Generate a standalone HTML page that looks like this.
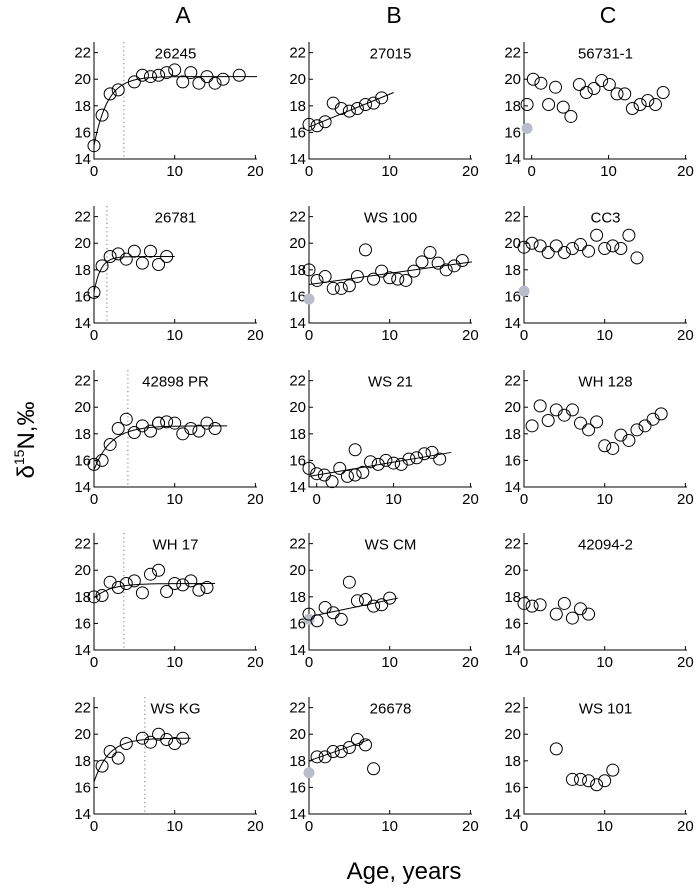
<!DOCTYPE html>
<html><head><meta charset="utf-8"><style>
html,body{margin:0;padding:0;background:#fff;}
svg{display:block;font-family:"Liberation Sans",Arial,sans-serif;}
</style></head><body>
<svg id="fig" width="699" height="888" viewBox="0 0 699 888">
<text x="183" y="23" font-size="23" text-anchor="middle">A</text>
<text x="394" y="23" font-size="23" text-anchor="middle">B</text>
<text x="608" y="23" font-size="23" text-anchor="middle">C</text>
<text transform="translate(34,440) rotate(-90)" font-size="24" text-anchor="middle">δ<tspan font-size="14" dy="-10">15</tspan><tspan dy="10">N,‰</tspan></text>
<text x="404" y="879" font-size="24" text-anchor="middle">Age, years</text>
</svg>
<script>
// ---- data arrays ----
const p26245x=[0,1,2,3,5,6,7,8,9,10,11,12,13,14,15,16,18];
const p26245y=[15.0,17.3,18.9,19.2,19.8,20.3,20.2,20.3,20.5,20.7,19.8,20.5,19.7,20.2,19.7,20.0,20.3];
const p27015x=[0,1,2,3,4,5,6,7,8,9];
const p27015y=[16.6,16.5,16.8,18.2,17.8,17.6,17.8,18.1,18.2,18.6];
const p56731x=[-0.6,0.2,1.2,2.2,3.1,4.1,5.1,6.2,7.1,8.1,9.1,10.1,11.1,12.1,13.1,14.1,15.1,16.1,17.1];
const p56731y=[18.1,20.0,19.7,18.1,19.4,17.9,17.2,19.6,19.0,19.3,19.9,19.6,18.9,18.9,17.8,18.1,18.4,18.1,19.0];
const p26781x=[0,1,2,3,4,5,6,7,8,9];
const p26781y=[16.3,18.3,19.0,19.2,18.8,19.4,18.5,19.4,18.4,19.0];
const pWS100x=[0,1,2,3,4,5,6,7,8,9,10,11,12,13,14,15,16,17,18,19];
const pWS100y=[18.0,17.2,17.5,16.6,16.6,16.8,17.5,19.5,17.3,17.9,17.4,17.3,17.2,17.9,18.6,19.3,18.5,18.0,18.3,18.7];
const pCC3x=[0,1,2,3,4,5,6,7,8,9,10,11,12,13,14];
const pCC3y=[19.7,20.0,19.8,19.3,19.8,19.3,19.6,19.9,19.4,20.6,19.6,19.8,19.6,20.6,18.9];
const p42898x=[0,1,2,3,4,5,6,7,8,8,9,10,11,12,13,14,15];
const p42898y=[15.7,16.0,17.2,18.4,19.1,18.1,18.6,18.2,18.8,18.8,18.9,18.8,18.0,18.4,18.2,18.8,18.4];
const pWS21x=[-1,0,1,2,3,4,5,5,6,7,8,9,10,11,12,13,14,15,16];
const pWS21y=[15.4,15.0,14.9,14.4,15.4,14.8,14.9,16.8,15.1,15.9,15.7,16.0,15.8,15.7,16.1,16.2,16.5,16.6,16.1];
const pWH128x=[1,2,3,4,5,6,7,8,9,10,11,12,13,14,15,16,17];
const pWH128y=[18.6,20.1,19.0,19.8,19.4,19.8,18.8,18.3,18.9,17.1,16.9,17.9,17.5,18.3,18.6,19.1,19.5];
const pWH17x=[0,1,2,3,4,5,6,7,8,9,10,11,12,13,14];
const pWH17y=[18.0,18.1,19.1,18.7,19.0,19.2,18.3,19.7,20.0,18.4,19.0,18.9,19.2,18.5,18.7];
const pWSCMx=[0,1,2,3,4,5,6,7,8,9,10];
const pWSCMy=[16.7,16.2,17.2,16.8,16.3,19.1,17.7,17.8,17.3,17.4,17.9];
const p42094x=[0,1,2,4,5,6,7,8];
const p42094y=[17.5,17.3,17.4,16.7,17.5,16.4,17.1,16.7];
const pWSKGx=[1,2,3,4,6,7,8,9,10,11];
const pWSKGy=[17.6,18.7,18.2,19.3,19.7,19.4,20.0,19.6,19.3,19.7];
const p26678x=[1,2,3,4,5,6,7,8];
const p26678y=[18.3,18.3,18.7,18.7,19.0,19.6,19.2,17.4];
const pWS101x=[4,6,7,8,9,10,11];
const pWS101y=[18.9,16.6,16.6,16.5,16.2,16.5,17.3];
// baseline (grey) values: [x, y]
const greyWS100=[0,15.8];
const greyCC3=[0,16.4];
const grey56731=[-0.6,16.3];
const greyWSCM=[0,16.3];
const grey26678=[0,17.1];
// exponential fits [start, asymptote, rate, xEnd], linear fits [x0,y0,x1,y1]
const fit26245=[15.0,20.2,0.6,20.2];
const fit26781=[16.3,19.0,1.2,10];
const fit42898=[15.3,18.6,0.47,16.5];
const fitWH17=[17.9,19.0,0.5,15];
const fitWSKG=[16.4,19.7,0.55,12];
const lin27015=[0,16.4,10.5,19.0];
const linWS100=[0,16.9,20.2,18.6];
const linWS21=[-1,14.8,17.5,16.6];
const linWSCM=[0,16.5,11,17.9];
const lin26678=[0,18.0,7.5,19.6];
// dotted vertical markers
const vline26245=3.7, vline26781=1.6, vline42898=4.2, vlineWH17=3.7, vlineWSKG=6.3;
const yTicks=[14,16,18,20,22];
const xTicks=[0,10,20];

const panels=[
 {name:'26245',col:0,row:0,xmin:0,x:p26245x,y:p26245y,exp:fit26245,v:vline26245},
 {name:'27015',col:1,row:0,xmin:0,x:p27015x,y:p27015y,lin:lin27015},
 {name:'56731-1',col:2,row:0,xmin:-1,x:p56731x,y:p56731y,grey:grey56731},
 {name:'26781',col:0,row:1,xmin:0,x:p26781x,y:p26781y,exp:fit26781,v:vline26781},
 {name:'WS 100',col:1,row:1,xmin:0,x:pWS100x,y:pWS100y,lin:linWS100,grey:greyWS100},
 {name:'CC3',col:2,row:1,xmin:0,x:pCC3x,y:pCC3y,grey:greyCC3},
 {name:'42898 PR',col:0,row:2,xmin:0,x:p42898x,y:p42898y,exp:fit42898,v:vline42898},
 {name:'WS 21',col:1,row:2,xmin:-1,x:pWS21x,y:pWS21y,lin:linWS21},
 {name:'WH 128',col:2,row:2,xmin:0,x:pWH128x,y:pWH128y},
 {name:'WH 17',col:0,row:3,xmin:0,x:pWH17x,y:pWH17y,exp:fitWH17,v:vlineWH17},
 {name:'WS CM',col:1,row:3,xmin:0,x:pWSCMx,y:pWSCMy,lin:linWSCM,grey:greyWSCM},
 {name:'42094-2',col:2,row:3,xmin:0,x:p42094x,y:p42094y},
 {name:'WS KG',col:0,row:4,xmin:0,x:pWSKGx,y:pWSKGy,exp:fitWSKG,v:vlineWSKG},
 {name:'26678',col:1,row:4,xmin:0,x:p26678x,y:p26678y,lin:lin26678,grey:grey26678},
 {name:'WS 101',col:2,row:4,xmin:0,x:pWS101x,y:pWS101y}
];
const NS='http://www.w3.org/2000/svg';
const svg=document.getElementById('fig');
const lefts=[94,309,524], W=163, bottoms=[159,323,487,650,814], H=117, YMIN=14, YMAX=22.8, XMAX=20.2;
function mk(tag,attrs,parent){const e=document.createElementNS(NS,tag);for(const k in attrs)e.setAttribute(k,attrs[k]);parent.appendChild(e);return e;}
panels.forEach(p=>{
  const L=lefts[p.col], B=bottoms[p.row];
  const sx=v=>L+(v-p.xmin)/(XMAX-p.xmin)*W;
  const sy=v=>B-(v-YMIN)/(YMAX-YMIN)*H;
  const slug=p.name.toLowerCase().replace(/\s+/g,'-');
  const g=mk('g',{},svg);
  
  
  const ax=mk('path',{d:`M${L},${B-H}V${B}H${L+W}`,fill:'none',stroke:'#000','stroke-width':1},g);
  
  
  yTicks.forEach(t=>{
    const y=sy(t);
    mk('line',{x1:L,x2:L+4,y1:y,y2:y,stroke:'#000','stroke-width':1},g);
    const tx=mk('text',{x:L-3,y:y+5,'font-size':15,'text-anchor':'end'},g);
    tx.textContent=t;
    
    
  });
  xTicks.forEach(t=>{
    const x=sx(t);
    mk('line',{x1:x,x2:x,y1:B,y2:B-4,stroke:'#000','stroke-width':1},g);
    const tx=mk('text',{x:x,y:B+17,'font-size':15,'text-anchor':'middle'},g);
    tx.textContent=t;
    
    
  });
  const ti=mk('text',{x:L+W/2,y:sy(22)+6,'font-size':15,'text-anchor':'middle'},g);
  ti.textContent=p.name;
  
  
  if(p.v!==undefined){
    const vl=mk('line',{x1:sx(p.v),x2:sx(p.v),y1:B-H,y2:B,stroke:'#777','stroke-width':1,'stroke-dasharray':'1.2,3'},g);
    
    
  }
  if(p.exp){
    const [b,a,k,xe]=p.exp; let d='';
    for(let i=0;i<=80;i++){const xv=xe*i/80;const yv=a-(a-b)*Math.exp(-k*xv);d+=(i?'L':'M')+sx(xv).toFixed(1)+','+sy(yv).toFixed(1);}
    const fl=mk('path',{d:d,fill:'none',stroke:'#000','stroke-width':1},g);
    
    
  }
  if(p.lin){
    const [x0,y0,x1,y1]=p.lin;
    const fl=mk('line',{x1:sx(x0),y1:sy(y0),x2:sx(x1),y2:sy(y1),stroke:'#000','stroke-width':1},g);
    
    
  }
  if(p.grey){
    const c=mk('circle',{cx:sx(p.grey[0]),cy:sy(p.grey[1]),r:5.5,fill:'#b9bccb'},g);
    
    
  }
  p.x.forEach((xv,i)=>{
    const c=mk('circle',{cx:sx(xv),cy:sy(p.y[i]),r:6,fill:'none',stroke:'#000','stroke-width':1},g);
    
    
  });
});
</script>
</body></html>
